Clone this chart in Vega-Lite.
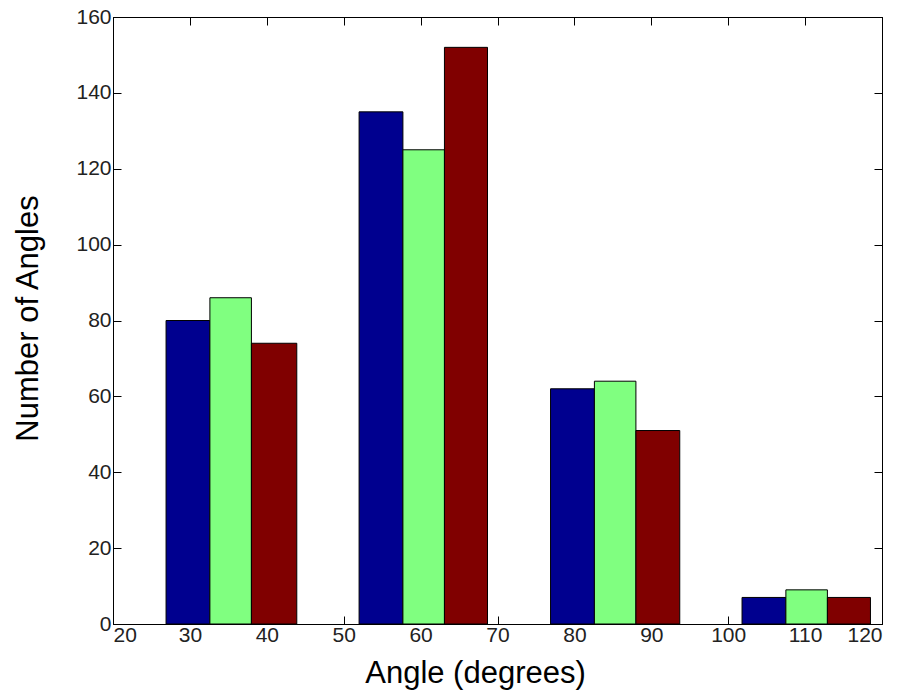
{
  "$schema": "https://vega.github.io/schema/vega-lite/v6.json",
  "width": 769,
  "height": 607,
  "autosize": {"type": "none"},
  "padding": {"left": 113, "top": 17, "right": 22, "bottom": 67},
  "background": "white",
  "config": {
    "view": {"stroke": "black", "strokeWidth": 1},
    "axis": {
      "grid": false,
      "domainColor": "black",
      "domainWidth": 1,
      "tickColor": "black",
      "tickWidth": 1,
      "tickSize": -8,
      "labelFont": "Liberation Sans",
      "labelFontSize": 21,
      "labelColor": "#222222",
      "titleFont": "Liberation Sans",
      "titleFontSize": 31,
      "titleFontWeight": "normal",
      "titleColor": "black"
    }
  },
  "data": {
    "values": [
      {"series": "a", "x0": 26.9, "x1": 32.6, "count": 80},
      {"series": "b", "x0": 32.6, "x1": 38.0, "count": 86},
      {"series": "c", "x0": 38.0, "x1": 43.9, "count": 74},
      {"series": "a", "x0": 52.0, "x1": 57.7, "count": 135},
      {"series": "b", "x0": 57.7, "x1": 63.1, "count": 125},
      {"series": "c", "x0": 63.1, "x1": 68.7, "count": 152},
      {"series": "a", "x0": 76.9, "x1": 82.6, "count": 62},
      {"series": "b", "x0": 82.6, "x1": 88.0, "count": 64},
      {"series": "c", "x0": 88.0, "x1": 93.7, "count": 51},
      {"series": "a", "x0": 101.8, "x1": 107.5, "count": 7},
      {"series": "b", "x0": 107.5, "x1": 112.9, "count": 9},
      {"series": "c", "x0": 112.9, "x1": 118.5, "count": 7}
    ]
  },
  "layer": [
    {
      "mark": {"type": "bar", "stroke": "black", "strokeWidth": 1},
      "encoding": {
        "x": {
          "field": "x0",
          "type": "quantitative",
          "scale": {"domain": [20, 120], "nice": false, "zero": false},
          "axis": {
            "orient": "bottom",
            "values": [20, 30, 40, 50, 60, 70, 80, 90, 100, 110, 120],
            "labelPadding": 8,
            "title": "Angle (degrees)",
            "titleX": 362,
            "titleY": 58,
            "titleAlign": "center",
            "titleBaseline": "alphabetic"
          }
        },
        "x2": {"field": "x1"},
        "y": {
          "field": "count",
          "type": "quantitative",
          "scale": {"domain": [0, 160], "nice": false},
          "axis": {
            "orient": "left",
            "values": [0, 20, 40, 60, 80, 100, 120, 140, 160],
            "labelPadding": 10,
            "title": "Number of Angles",
            "titleX": -76,
            "titleY": 301,
            "titleAngle": -90,
            "titleAlign": "center",
            "titleBaseline": "alphabetic"
          }
        },
        "y2": {"datum": 0},
        "color": {
          "field": "series",
          "type": "nominal",
          "scale": {"domain": ["a", "b", "c"], "range": ["#00008F", "#80FF80", "#800000"]},
          "legend": null
        }
      }
    },
    {
      "mark": {"type": "bar", "opacity": 0},
      "encoding": {
        "x": {
          "field": "x0",
          "type": "quantitative",
          "axis": {"orient": "top", "values": [20, 30, 40, 50, 60, 70, 80, 90, 100, 110, 120], "labels": false, "title": null}
        },
        "x2": {"field": "x1"},
        "y": {
          "field": "count",
          "type": "quantitative",
          "axis": {"orient": "right", "values": [0, 20, 40, 60, 80, 100, 120, 140, 160], "labels": false, "title": null}
        },
        "y2": {"datum": 0}
      }
    }
  ],
  "resolve": {"axis": {"x": "independent", "y": "independent"}}
}
